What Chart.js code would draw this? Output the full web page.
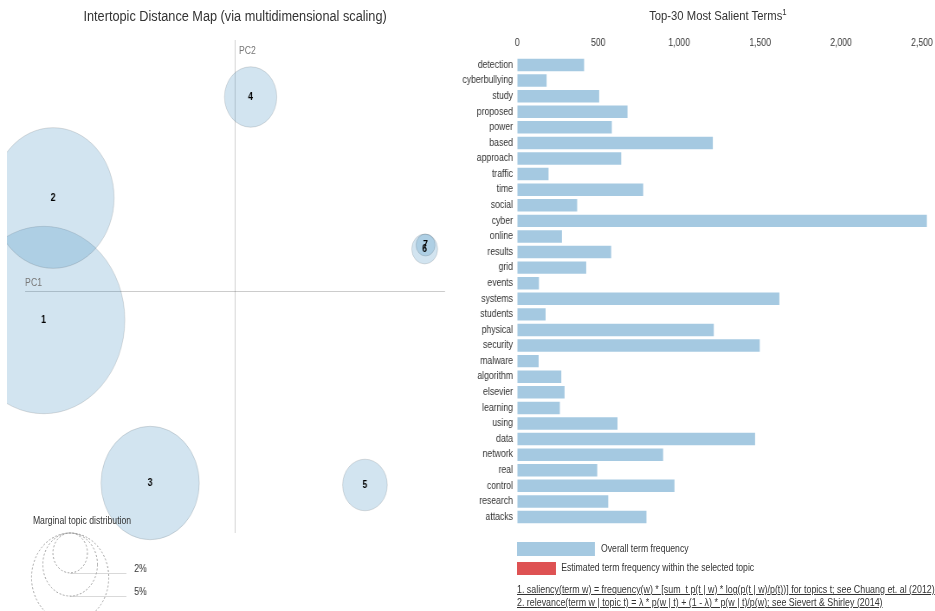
<!DOCTYPE html>
<html>
<head>
<meta charset="utf-8">
<title>Intertopic Distance Map</title>
<script src="https://cdn.jsdelivr.net/npm/chart.js@4.4.1/dist/chart.umd.min.js"></script>
<style>
    body { margin: 0; background: #fff; overflow: hidden; font-family: "Liberation Sans", Arial, sans-serif; color: #333; }
    /* the screenshot is squeezed horizontally, so the whole page is drawn wider and scaled back */
    #page { position: relative; width: 1080px; height: 611px; transform: scaleX(0.866); transform-origin: 0 0; }
    #page canvas { position: absolute; top: 0; }
    .txt { position: absolute; white-space: nowrap; font-size: 10px; line-height: 12px; }
    .title { position: absolute; top: 8px; font-size: 13px; line-height: 16px; text-align: center; color: #333; }
    .title sup { font-size: 9px; line-height: 0; }
    .swatch { position: absolute; }
    .note { text-decoration: underline; font-size: 10.25px; }
</style>
</head>
<body>
<div id="page">
    <canvas id="mdsChart" width="530" height="611" style="left:0"></canvas>
    <canvas id="termChart" width="560" height="611" style="left:520px"></canvas>

    <div class="title" style="left:0; width:543px; top:7px; font-size:14.7px; line-height:18px">Intertopic Distance Map (via multidimensional scaling)</div>
    <div class="title" style="left:629px; width:400px">Top-30 Most Salient Terms<sup>1</sup></div>

    <div class="txt" style="left:276px; top:45px; color:#777">PC2</div>
    <div class="txt" style="left:29px; top:277px; color:#777">PC1</div>
    <div class="txt" style="left:38px; top:515px">Marginal topic distribution</div>

    <div class="swatch" style="left:597px; top:542px; width:90px; height:14px; background:rgba(31,119,180,0.4)"></div>
    <div class="txt" style="left:694px; top:543px">Overall term frequency</div>
    <div class="swatch" style="left:597px; top:562px; width:45px; height:13px; background:rgba(214,39,40,0.8)"></div>
    <div class="txt" style="left:648px; top:562px">Estimated term frequency within the selected topic</div>
    <div class="txt note" style="left:597px; top:584px">1. saliency(term w) = frequency(w) * [sum_t p(t | w) * log(p(t | w)/p(t))] for topics t; see Chuang et. al (2012)</div>
    <div class="txt note" style="left:597px; top:597px">2. relevance(term w | topic t) = λ * p(w | t) + (1 - λ) * p(w | t)/p(w); see Sievert &amp; Shirley (2014)</div>
</div>

<script>
// topics on the intertopic map
const topicIds = ["1", "2", "3", "4", "5", "6", "7"];
const topicPC1 = [-0.221, -0.210, -0.098, 0.018, 0.150, 0.219, 0.220];
const topicPC2 = [-0.029, 0.093, -0.192, 0.194, -0.194, 0.042, 0.046];
const topicShare = [44.2, 24.9, 16.2, 4.6, 3.35, 1.13, 0.61]; // % of tokens
const guideShares = [2, 5, 10];

// top-30 salient terms
const terms = ["detection", "cyberbullying", "study", "proposed", "power", "based", "approach", "traffic", "time", "social",
    "cyber", "online", "results", "grid", "events", "systems", "students", "physical", "security", "malware",
    "algorithm", "elsevier", "learning", "using", "data", "network", "real", "control", "research", "attacks"];
const termTotal = [413, 181, 506, 681, 584, 1208, 642, 193, 778, 370,
    2531, 276, 580, 426, 134, 1619, 175, 1214, 1498, 132,
    272, 292, 263, 619, 1469, 901, 494, 971, 562, 798];
const freqTicks = [0, 500, 1000, 1500, 2000, 2500];

const FONT = '"Liberation Sans", Arial, sans-serif';
Chart.defaults.font.family = FONT;
Chart.defaults.font.size = 10;
Chart.defaults.color = "#333";

function shareToRadius(pct) {
    return 14.1 * Math.sqrt(pct);
}

function zeroLine(ctx) {
    return ctx.tick && ctx.tick.value === 0 ? "rgba(0,0,0,0.2)" : "rgba(0,0,0,0)";
}

const bubbleLabels = {
    id: "bubbleLabels",
    afterDatasetsDraw(chart) {
        const ctx = chart.ctx;
        ctx.save();
        ctx.font = "bold 10px " + FONT;
        ctx.fillStyle = "#000";
        ctx.textAlign = "center";
        ctx.textBaseline = "middle";
        chart.getDatasetMeta(0).data.forEach(function (pt, i) {
            ctx.fillText(topicIds[i], pt.x, pt.y);
        });
        ctx.restore();
    }
};

// dashed size guide under the map
const sizeGuide = {
    id: "sizeGuide",
    afterDraw(chart) {
        const ctx = chart.ctx;
        const top = chart.chartArea.bottom;
        const cx = 81, lineEnd = 146, labelX = 155;
        ctx.save();
        ctx.lineWidth = 1;
        guideShares.forEach(function (p) {
            const r = shareToRadius(p);
            ctx.setLineDash([2, 2]);
            ctx.strokeStyle = "#999";
            ctx.beginPath();
            ctx.arc(cx, top + r, r, 0, Math.PI * 2);
            ctx.stroke();
            ctx.setLineDash([]);
            ctx.strokeStyle = "rgba(128,128,128,0.3)";
            ctx.beginPath();
            ctx.moveTo(cx, Math.round(top + 2 * r) + 0.5);
            ctx.lineTo(lineEnd, Math.round(top + 2 * r) + 0.5);
            ctx.stroke();
            ctx.fillStyle = "#333";
            ctx.font = "10px " + FONT;
            ctx.textBaseline = "middle";
            ctx.fillText(p + "%", labelX, top + 2 * r - 3.5);
        });
        ctx.restore();
    }
};

new Chart(document.getElementById("mdsChart"), {
    type: "bubble",
    data: {
        datasets: [{
            label: "Topics",
            data: topicIds.map(function (id, i) {
                return { x: topicPC1[i], y: topicPC2[i], r: shareToRadius(topicShare[i]) };
            }),
            backgroundColor: "rgba(31,119,180,0.2)",
            borderColor: "rgba(0,0,0,0.12)",
            borderWidth: 1,
            clip: { left: 21, top: 20, right: 20, bottom: 20 }
        }]
    },
    options: {
        responsive: false,
        animation: false,
        events: [],
        layout: { autoPadding: false, padding: { left: 28.9, right: 16.1, top: 40, bottom: 78 } },
        plugins: { legend: { display: false }, tooltip: { enabled: false } },
        scales: {
            x: {
                type: "linear", min: -0.2425, max: 0.2425,
                ticks: { display: false, stepSize: 0.1 },
                grid: { drawTicks: false, color: zeroLine },
                border: { display: false },
                afterFit: function (s) { s.height = 0; }
            },
            y: {
                type: "linear", min: -0.242, max: 0.251,
                ticks: { display: false, stepSize: 0.1 },
                grid: { drawTicks: false, color: zeroLine },
                border: { display: false },
                afterFit: function (s) { s.width = 0; }
            }
        }
    },
    plugins: [bubbleLabels, sizeGuide]
});

new Chart(document.getElementById("termChart"), {
    type: "bar",
    data: {
        labels: terms,
        datasets: [{
            label: "Overall term frequency",
            data: termTotal,
            backgroundColor: "rgba(31,119,180,0.4)",
            barPercentage: 0.8,
            categoryPercentage: 1
        }]
    },
    options: {
        indexAxis: "y",
        responsive: false,
        animation: false,
        events: [],
        layout: { autoPadding: false, padding: { left: 0, right: 9.6, top: 33.2, bottom: 86.2 } },
        plugins: { legend: { display: false }, tooltip: { enabled: false } },
        scales: {
            x: {
                position: "top", min: 0, max: Math.max.apply(null, termTotal),
                ticks: { padding: 8, maxRotation: 0 },
                afterBuildTicks: function (s) {
                    s.ticks = freqTicks.map(function (v) { return { value: v }; });
                },
                grid: { display: false, drawTicks: false },
                border: { display: false },
                afterFit: function (s) {
                    s.height = 24;
                    s.paddingLeft = 0;
                    s.paddingRight = 0;
                }
            },
            y: {
                ticks: { padding: 5, autoSkip: false },
                grid: { display: false, drawTicks: false },
                border: { display: false },
                afterFit: function (s) {
                    s.width = 77.3;
                    s.paddingTop = 0;
                    s.paddingBottom = 0;
                }
            }
        }
    }
});
</script>
</body>
</html>
